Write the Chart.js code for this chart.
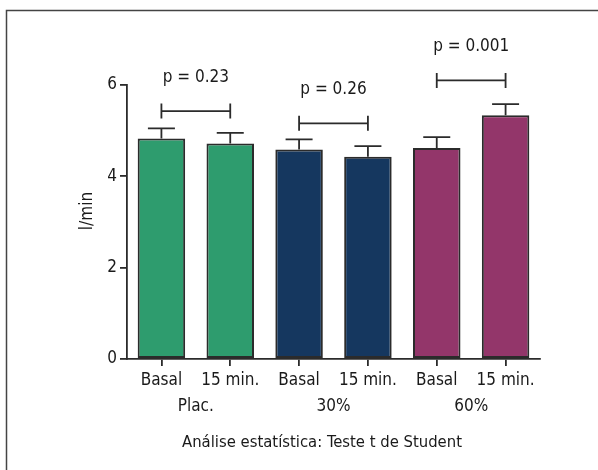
<!DOCTYPE html>
<html>
<head>
<meta charset="utf-8">
<script src="https://cdn.jsdelivr.net/npm/chart.js@4/dist/chart.umd.min.js"></script>
<style>
  html, body { margin: 0; padding: 0; background: #fff; }
  #wrap { width: 598px; height: 470px; position: relative; }
</style>
</head>
<body>
<div id="wrap"><canvas id="grafico"></canvas></div>
<script>
// dados
const categorias = ['Basal', '15 min.', 'Basal', '15 min.', 'Basal', '15 min.'];
const grupos = ['Plac.', '30%', '60%'];
const medias = [4.83, 4.72, 4.59, 4.43, 4.62, 5.34];
const erros = [0.22, 0.23, 0.22, 0.23, 0.24, 0.24];
const valoresP = ['p = 0.23', 'p = 0.26', 'p = 0.001'];
const alturaColchete = [5.43, 5.16, 6.1];
const ticksY = [0, 2, 4, 6];
const tituloY = 'l/min';
const legendaBaixo = 'Análise estatística: Teste t de Student';

const cores = ['#2e9c6e', '#2e9c6e', '#15375f', '#15375f', '#93366a', '#93366a'];
const fonte = "'Liberation Sans Narrow', 'DejaVu Sans Condensed', 'Liberation Sans', sans-serif";
const corTexto = '#1a1a1a';
const corLinha = '#2b2b2b';

// desenha barras de erro, colchetes, rótulos dos grupos e o texto de baixo
const extras = {
  id: 'extras',
  afterDraw(chart) {
    const ctx = chart.ctx;
    const x = chart.scales.x;
    const y = chart.scales.y;
    ctx.save();

    // moldura (linha de cima e da esquerda)
    ctx.strokeStyle = '#444';
    ctx.lineWidth = 1.5;
    ctx.beginPath();
    ctx.moveTo(6.5, 470);
    ctx.lineTo(6.5, 10.5);
    ctx.lineTo(598, 10.5);
    ctx.stroke();

    // barras de erro (só para cima)
    ctx.strokeStyle = corLinha;
    ctx.lineWidth = 1.8;
    medias.forEach((m, i) => {
      const cx = x.getPixelForValue(i);
      const yb = y.getPixelForValue(m);
      const yt = y.getPixelForValue(m + erros[i]);
      ctx.beginPath();
      ctx.moveTo(cx, yb);
      ctx.lineTo(cx, yt);
      ctx.moveTo(cx - 13.5, yt);
      ctx.lineTo(cx + 13.5, yt);
      ctx.stroke();
    });

    ctx.fillStyle = corTexto;
    ctx.font = '17px ' + fonte;
    ctx.textAlign = 'center';

    // colchetes com valor de p
    valoresP.forEach((p, g) => {
      const x1 = x.getPixelForValue(2 * g);
      const x2 = x.getPixelForValue(2 * g + 1);
      const yy = y.getPixelForValue(alturaColchete[g]);
      ctx.beginPath();
      ctx.moveTo(x1, yy - 7.5);
      ctx.lineTo(x1, yy + 7.5);
      ctx.moveTo(x1, yy);
      ctx.lineTo(x2, yy);
      ctx.moveTo(x2, yy - 7.5);
      ctx.lineTo(x2, yy + 7.5);
      ctx.stroke();
      ctx.textBaseline = 'alphabetic';
      ctx.fillText(p, (x1 + x2) / 2, yy - 29);
    });

    // rótulos dos grupos
    ctx.textBaseline = 'middle';
    grupos.forEach((g, i) => {
      const cx = (x.getPixelForValue(2 * i) + x.getPixelForValue(2 * i + 1)) / 2;
      ctx.fillText(g, cx, 407);
    });

    // texto de baixo
    ctx.font = '16.5px ' + fonte;
    ctx.fillText(legendaBaixo, 322, 443);

    // título do eixo y
    ctx.font = '17px ' + fonte;
    ctx.translate(88, 211);
    ctx.rotate(-Math.PI / 2);
    ctx.fillText(tituloY, 0, 0);

    ctx.restore();
  }
};

const grafico = new Chart(document.getElementById('grafico'), {
  type: 'bar',
  data: {
    labels: categorias,
    datasets: [{
      data: medias,
      backgroundColor: cores,
      borderColor: corLinha,
      borderWidth: 2,
      borderSkipped: false,
      barPercentage: 0.69,
      categoryPercentage: 1
    }]
  },
  options: {
    responsive: true,
    maintainAspectRatio: false,
    animation: false,
    layout: { padding: { top: 85, right: 58, bottom: 0, left: 0 } },
    plugins: {
      legend: { display: false },
      tooltip: { enabled: false }
    },
    scales: {
      x: {
        afterFit(s) { s.height = 111; },
        grid: {
          display: true,
          drawOnChartArea: false,
          drawTicks: true,
          tickLength: 7,
          offset: false,
          color: corLinha,
          lineWidth: 1.8
        },
        border: { display: true, color: corLinha, width: 1.8 },
        ticks: {
          color: corTexto,
          padding: 4,
          maxRotation: 0,
          autoSkip: false,
          font: { family: fonte, size: 17 }
        }
      },
      y: {
        min: 0,
        max: 6,
        afterFit(s) { s.width = 127; },
        afterBuildTicks(s) { s.ticks = ticksY.map(v => ({ value: v })); },
        grid: {
          display: true,
          drawOnChartArea: false,
          drawTicks: true,
          tickLength: 7,
          color: corLinha,
          lineWidth: 1.8
        },
        border: { display: true, color: corLinha, width: 1.8 },
        ticks: {
          color: corTexto,
          padding: 3,
          font: { family: fonte, size: 17 }
        }
      }
    }
  },
  plugins: [extras]
});
</script>
</body>
</html>
